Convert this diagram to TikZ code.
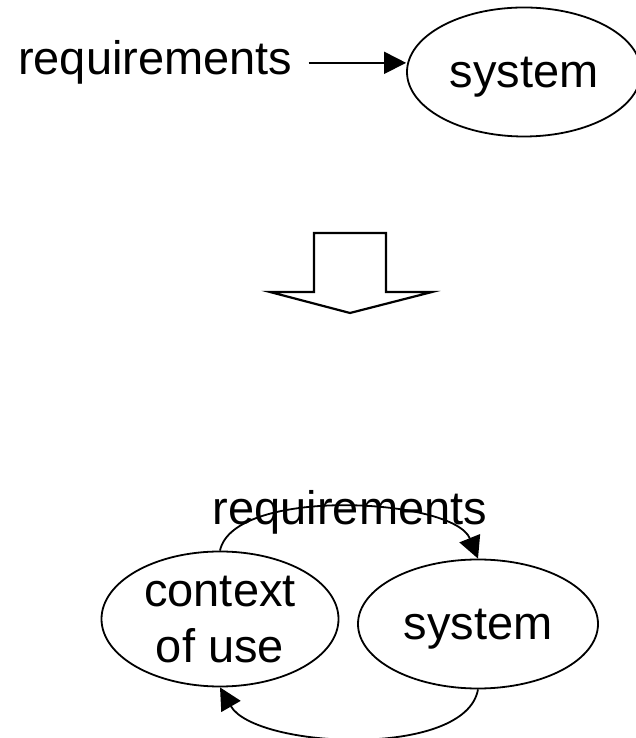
\documentclass[tikz,border=0pt]{standalone}
\usepackage{fontspec}
\setmainfont{Liberation Sans}
\usepackage{tikz}
\usetikzlibrary{
    arrows.meta,
    shapes.geometric
}

\begin{document}
\begin{tikzpicture}[
    x=1pt, y=1pt,
    font=\fontsize{47}{56}\selectfont,
    blob/.style={ellipse, draw, line width=1.8pt, inner sep=0pt, text depth=0pt},
    flow/.style={-{Triangle[length=22pt,width=22pt]}, line width=1.8pt}
]
    \useasboundingbox (0,0) rectangle (635,738);
    \node[anchor=base west, inner sep=0pt] (req1) at (18,663) {requirements};
    \node[blob, minimum width=234pt, minimum height=129pt] (sys1) at (524,666) {system};
    \draw[flow] ([xshift=16pt]req1.east) -- (req1.east -| sys1.west);
    \draw[line width=2.2pt, line join=miter] (314,505) -- (386,505) -- (386,446) -- (432,446)
        -- (350,425) -- (270,446) -- (314,446) -- cycle;
    \node[blob, minimum width=237pt, minimum height=135pt, align=center] (ctx) at (220,119) {context\\of use};
    \node[blob, minimum width=240pt, minimum height=129pt] (sys2) at (478,114) {system};
    \node[anchor=base, inner sep=0pt] (req2) at (350,213) {requirements};
    \draw[flow] (ctx.north) to[out=78, in=112, looseness=0.65] (sys2.north);
    \draw[flow] (sys2.south) to[out=-100, in=-60, looseness=0.7] (ctx.south);
\end{tikzpicture}
\end{document}
